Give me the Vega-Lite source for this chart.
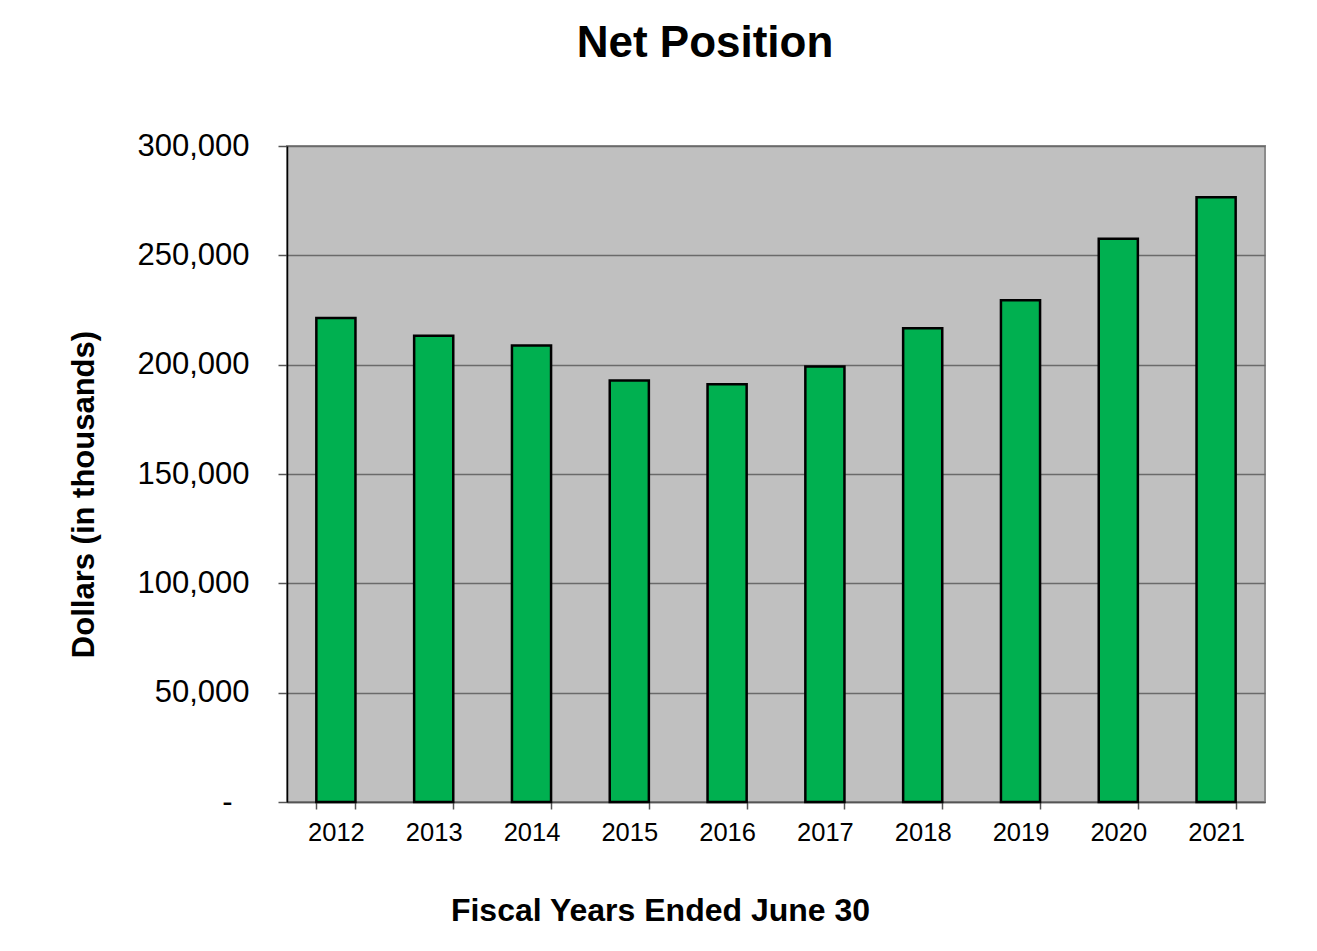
{
  "$schema": "https://vega.github.io/schema/vega-lite/v6.json",
  "autosize": {"type": "none"},
  "width": 978,
  "height": 656,
  "padding": {"left": 287, "top": 146, "right": 52, "bottom": 149},
  "background": "white",
  "title": {
    "text": "Net Position",
    "font": "Liberation Sans",
    "fontSize": 44,
    "fontWeight": "bold",
    "color": "black",
    "anchor": "middle",
    "frame": "group",
    "dx": -71,
    "baseline": "alphabetic",
    "offset": 29
  },
  "data": {
    "values": [
      {"year": "2012", "value": 221300},
      {"year": "2013", "value": 213200},
      {"year": "2014", "value": 208800},
      {"year": "2015", "value": 192800},
      {"year": "2016", "value": 191000},
      {"year": "2017", "value": 199200},
      {"year": "2018", "value": 216600},
      {"year": "2019", "value": 229500},
      {"year": "2020", "value": 257600},
      {"year": "2021", "value": 276600}
    ]
  },
  "mark": {"type": "bar", "fill": "#00B050", "stroke": "black", "strokeWidth": 2.5},
  "encoding": {
    "x": {
      "field": "year",
      "type": "ordinal",
      "scale": {"paddingInner": 0.6, "paddingOuter": 0.3},
      "axis": {
        "title": "Fiscal Years Ended June 30",
        "titleFont": "Liberation Sans",
        "titleFontSize": 32,
        "titleFontWeight": "bold",
        "titleColor": "black",
        "titleX": 373,
        "titleY": 118,
        "titleBaseline": "alphabetic",
        "labelFont": "Liberation Sans",
        "labelFontSize": 25.5,
        "labelColor": "black",
        "labelAngle": 0,
        "labelPadding": 11,
        "tickBand": "extent",
        "tickSize": 7,
        "tickColor": "#555555",
        "tickWidth": 1.5,
        "domainColor": "#555555",
        "domainWidth": 1.5,
        "grid": false
      }
    },
    "y": {
      "field": "value",
      "type": "quantitative",
      "scale": {"domain": [0, 300000], "nice": false},
      "axis": {
        "title": "Dollars (in thousands)",
        "titleFont": "Liberation Sans",
        "titleFontSize": 31,
        "titleFontWeight": "bold",
        "titleColor": "black",
        "titleAngle": 270,
        "titleX": -203,
        "titleY": 348,
        "titleBaseline": "middle",
        "titleAlign": "center",
        "values": [0, 50000, 100000, 150000, 200000, 250000, 300000],
        "labelExpr": "datum.value == 0 ? '-' : format(datum.value, ',')",
        "labelFont": "Liberation Sans",
        "labelFontSize": 31,
        "labelColor": "black",
        "labelPadding": {"condition": {"test": "datum.value == 0", "value": 46}, "value": 29},
        "tickSize": 9,
        "tickColor": "#555555",
        "tickWidth": 1.5,
        "domainColor": "black",
        "domainWidth": 1.5,
        "grid": true,
        "gridColor": "#6a6a6a",
        "gridWidth": 1.3
      }
    }
  },
  "config": {
    "view": {"fill": "#C0C0C0", "stroke": "#8c8c8c", "strokeWidth": 2}
  }
}
